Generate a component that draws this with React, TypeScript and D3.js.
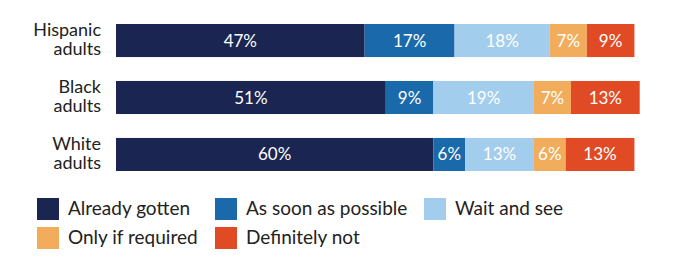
import * as d3 from "d3";

const groups = ["Hispanic adults", "Black adults", "White adults"];
const series = ["Already gotten", "As soon as possible", "Wait and see", "Only if required", "Definitely not"];
const colors = ["#1a2651", "#1a6aab", "#a3cdec", "#f2ad5c", "#e04b26"];

const alreadyGotten = [47, 51, 60];
const asSoonAsPossible = [17, 9, 6];
const waitAndSee = [18, 19, 13];
const onlyIfRequired = [7, 7, 6];
const definitelyNot = [9, 13, 13];

const values = [alreadyGotten, asSoonAsPossible, waitAndSee, onlyIfRequired, definitelyNot];

const width = 680;
const height = 268;
const font = "Lato, 'Open Sans', sans-serif";
const ink = "#222";

export default function App() {
  const x = d3.scaleLinear().domain([0, 100]).range([116, 645]);
  const y = d3.scaleBand().domain(groups).range([24, 171]).paddingInner(0.42);

  const rows = groups.map((g, i) => {
    const obj: Record<string, number | string> = { group: g };
    series.forEach((s, j) => (obj[s] = values[j][i]));
    return obj;
  });
  const stacked = d3.stack<Record<string, number | string>>().keys(series)(rows as any);

  // legend grid: 3 columns, 2 rows
  const legendCols = [37, 215, 424];
  const legendRows = [198, 227];

  return (
    <svg width={width} height={height} style={{ position: "absolute", left: 0, top: 0, background: "#fff" }}>
      {stacked.map((layer, si) => (
        <g key={series[si]}>
          {layer.map((d, gi) => {
            const x0 = x(d[0]);
            const x1 = x(d[1]);
            const yy = y(groups[gi])!;
            return (
              <g key={gi}>
                <rect x={x0} y={yy} width={x1 - x0} height={y.bandwidth()} fill={colors[si]} />
                <text
                  x={(x0 + x1) / 2}
                  y={yy + y.bandwidth() / 2 + 6}
                  textAnchor="middle"
                  fill="#fff"
                  fontFamily={font}
                  fontSize={17}
                >
                  {values[si][gi]}%
                </text>
              </g>
            );
          })}
        </g>
      ))}
      {groups.map((g) => {
        const [l1, l2] = g.split(" ");
        const cy = y(g)! + y.bandwidth() / 2;
        return (
          <text key={g} textAnchor="end" fontFamily={font} fontSize={18} fill={ink}>
            <tspan x={101} y={cy - 4.6}>{l1}</tspan>
            <tspan x={101} y={cy + 14.3}>{l2}</tspan>
          </text>
        );
      })}
      {series.map((s, i) => {
        const lx = legendCols[i % 3];
        const ly = legendRows[Math.floor(i / 3)];
        return (
          <g key={s}>
            <rect x={lx} y={ly} width={22} height={22} fill={colors[i]} />
            <text x={lx + 31} y={ly + 17} fontFamily={font} fontSize={19} fill={ink}>
              {s}
            </text>
          </g>
        );
      })}
    </svg>
  );
}
